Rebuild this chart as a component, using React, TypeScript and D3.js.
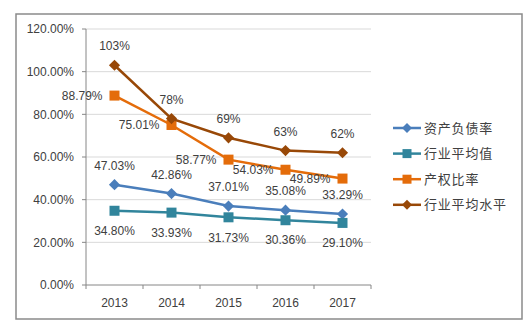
import React from "react";
import * as d3 from "d3";

const years = ["2013", "2014", "2015", "2016", "2017"];
const debtRatio = [47.03, 42.86, 37.01, 35.08, 33.29];
const industryAvg = [34.8, 33.93, 31.73, 30.36, 29.1];
const equityRatio = [88.79, 75.01, 58.77, 54.03, 49.89];
const industryLevel = [103, 78, 69, 63, 62];
const yTicks = [0, 20, 40, 60, 80, 100, 120];

type Series = {
  name: string;
  values: number[];
  color: string;
  marker: "diamond" | "square";
  fmt: (v: number) => string;
  pos: "above" | "below" | "left";
};

const series: Series[] = [
  { name: "资产负债率", values: debtRatio, color: "#4A7EBB", marker: "diamond", fmt: (v) => v.toFixed(2) + "%", pos: "above" },
  { name: "行业平均值", values: industryAvg, color: "#31859C", marker: "square", fmt: (v) => v.toFixed(2) + "%", pos: "below" },
  { name: "产权比率", values: equityRatio, color: "#E46C0A", marker: "square", fmt: (v) => v.toFixed(2) + "%", pos: "left" },
  { name: "行业平均水平", values: industryLevel, color: "#984807", marker: "diamond", fmt: (v) => v.toFixed(0) + "%", pos: "above" },
];

const W = 530;
const H = 327;
const left = 86;
const right = 371;
const top = 29;
const bottom = 285;
const font = "'Liberation Sans', Arial, sans-serif";
const txt = "#404040";

function Marker({ type, x, y, color, size }: { type: string; x: number; y: number; color: string; size: number }) {
  if (type === "diamond") {
    const s = size * 0.62;
    return <path d={`M${x},${y - s}L${x + s},${y}L${x},${y + s}L${x - s},${y}Z`} fill={color} />;
  }
  const s = size / 2;
  return <rect x={x - s} y={y - s} width={size} height={size} fill={color} />;
}

export default function App() {
  const x = d3.scaleBand<string>().domain(years).range([left, right]).padding(0);
  const y = d3.scaleLinear().domain([0, 120]).range([bottom, top]);
  const cx = (d: string) => (x(d) ?? 0) + x.bandwidth() / 2;
  const line = d3
    .line<number>()
    .x((_, i) => cx(years[i]))
    .y((v) => y(v));

  const legendY0 = 128;
  const legendStep = 25.6;

  return (
    <svg width={W} height={H} style={{ position: "absolute", left: 0, top: 0 }}>
      <rect x={0} y={0} width={W} height={H} fill="#fff" />
      <rect x={16} y={14} width={506} height={305} fill="#fff" stroke="#8a8a8a" strokeWidth={1.5} />
      {yTicks.map((t) => (
        <g key={t}>
          {t > 0 && <line x1={left} x2={right} y1={y(t)} y2={y(t)} stroke="#D9D9D9" strokeWidth={1} />}
          <line x1={left - 4} x2={left} y1={y(t)} y2={y(t)} stroke="#868686" />
          <text x={74} y={y(t)} dy="0.35em" textAnchor="end" fontFamily={font} fontSize={12} fill={txt}>
            {t.toFixed(2) + "%"}
          </text>
        </g>
      ))}
      <line x1={left} x2={left} y1={top} y2={bottom} stroke="#868686" />
      <line x1={left} x2={right} y1={bottom} y2={bottom} stroke="#868686" />
      {years.map((yr) => (
        <g key={yr}>
          <line x1={x(yr)} x2={x(yr)} y1={bottom} y2={bottom + 4} stroke="#868686" />
          <text x={cx(yr)} y={303} dy="0.35em" textAnchor="middle" fontFamily={font} fontSize={12} fill={txt}>
            {yr}
          </text>
        </g>
      ))}
      <line x1={right} x2={right} y1={bottom} y2={bottom + 4} stroke="#868686" />
      {series.map((s) => (
        <g key={s.name}>
          <path d={line(s.values) ?? ""} fill="none" stroke={s.color} strokeWidth={2.5} />
          {s.values.map((v, i) => (
            <Marker key={i} type={s.marker} x={cx(years[i])} y={y(v)} color={s.color} size={s.marker === "square" ? 10 : 9} />
          ))}
        </g>
      ))}
      {series.map((s) =>
        s.values.map((v, i) => {
          const px = cx(years[i]);
          const py = y(v);
          let tx = px;
          let ty = py;
          let anchor = "middle";
          if (s.pos === "above") ty = py - 19;
          else if (s.pos === "below") ty = py + 20;
          else {
            tx = px - 12;
            anchor = "end";
          }
          return (
            <text key={s.name + i} x={tx} y={ty} dy="0.35em" textAnchor={anchor} fontFamily={font} fontSize={12} fill={txt}>
              {s.fmt(v)}
            </text>
          );
        })
      )}
      {series.map((s, i) => {
        const ly = legendY0 + i * legendStep;
        return (
          <g key={s.name}>
            <line x1={393} x2={421} y1={ly} y2={ly} stroke={s.color} strokeWidth={2.5} />
            <Marker type={s.marker} x={407} y={ly} color={s.color} size={s.marker === "square" ? 9 : 8} />
            <text x={424} y={ly} dy="0.35em" fontFamily="'Noto Sans CJK SC', sans-serif" fontSize={13} letterSpacing={0.8} fill={txt}>
              {s.name}
            </text>
          </g>
        );
      })}
    </svg>
  );
}
